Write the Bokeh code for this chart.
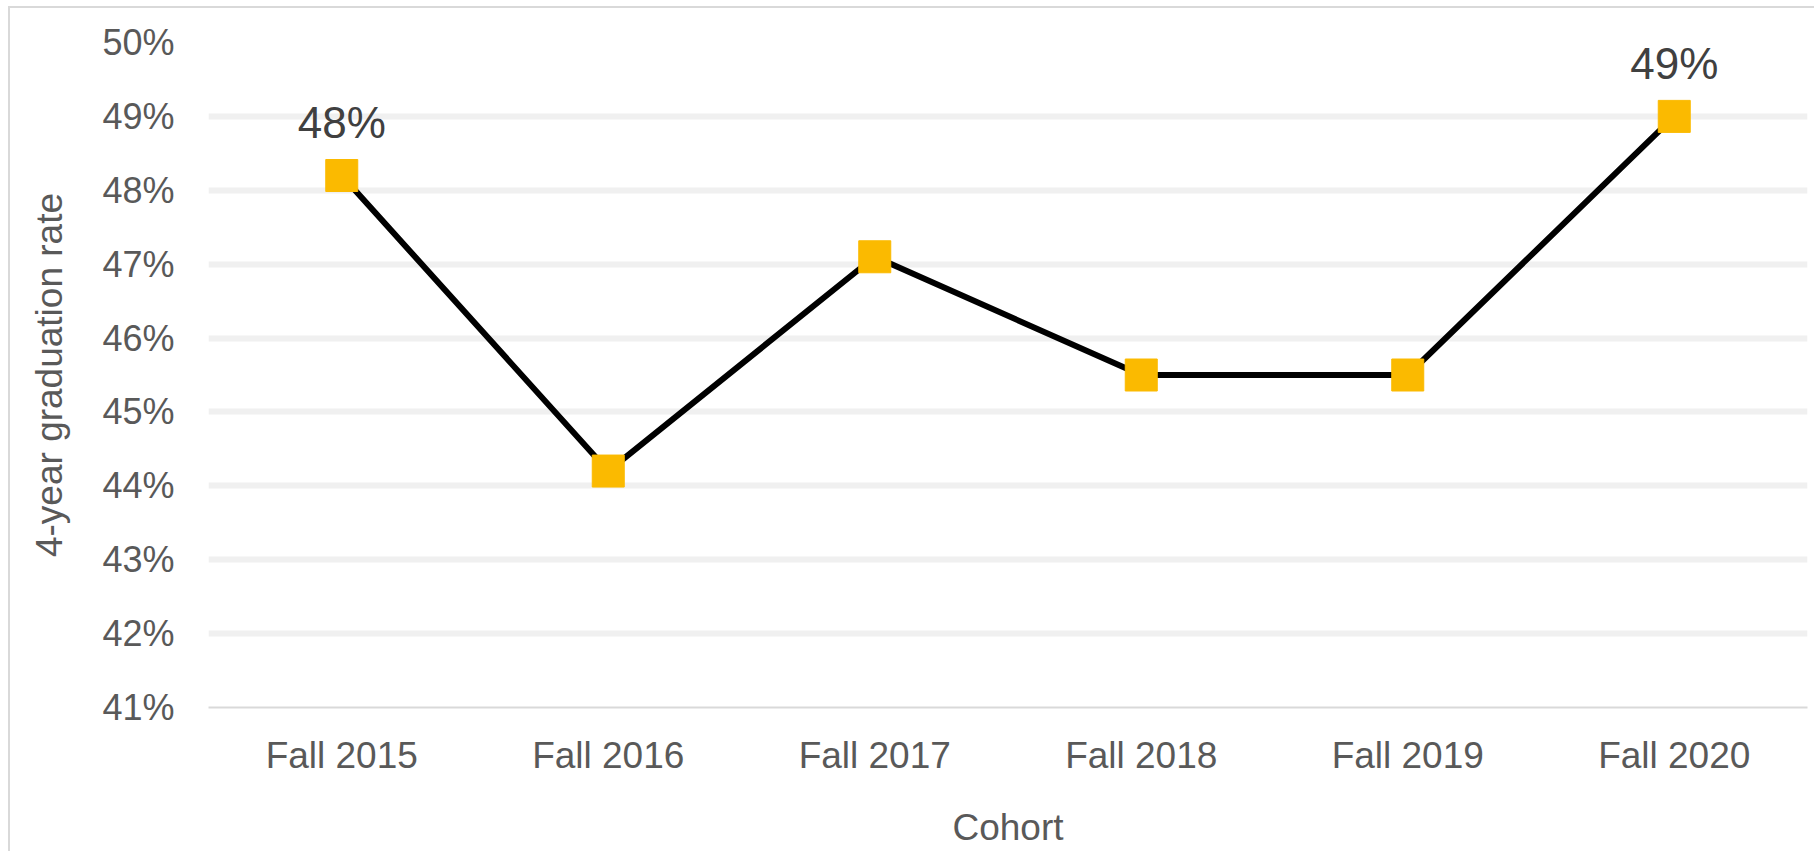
from bokeh.plotting import figure
from bokeh.models import ColumnDataSource, FactorRange, Range1d, FixedTicker, PrintfTickFormatter
from bokeh.core.properties import value
from bokeh.embed import file_html
from bokeh.resources import INLINE

cohorts = ["Fall 2015", "Fall 2016", "Fall 2017", "Fall 2018", "Fall 2019", "Fall 2020"]
rates = [48.2, 44.2, 47.1, 45.5, 45.5, 49.0]
point_labels = ["48%", "", "", "", "", "49%"]
y_ticks = [41, 42, 43, 44, 45, 46, 47, 48, 49, 50]

FONT = "Liberation Sans"

src = ColumnDataSource(dict(x=cohorts, y=rates, lab=point_labels))

p = figure(
    x_range=FactorRange(*cohorts, range_padding=0),
    y_range=Range1d(41, 50),
    width=1806, height=845,
    output_backend="svg", toolbar_location=None,
    min_border_left=198, min_border_right=9, min_border_top=34, min_border_bottom=146,
)
p.styles = {"border-left": "2px solid #D9D9D9", "border-top": "2px solid #D9D9D9",
            "margin-left": "8px", "margin-top": "6px"}
p.outline_line_color = None
p.background_fill_color = "white"
p.border_fill_color = "white"

# grid
p.xgrid.grid_line_color = None
p.ygrid.ticker = FixedTicker(ticks=y_ticks[1:])
p.ygrid.grid_line_color = "#F0F0F0"
p.ygrid.grid_line_width = 6

# y axis
p.yaxis.ticker = FixedTicker(ticks=y_ticks)
p.yaxis.formatter = PrintfTickFormatter(format="%d%%")
p.yaxis.axis_line_color = None
p.yaxis.major_tick_line_color = None
p.yaxis.minor_tick_line_color = None
p.yaxis.major_label_standoff = 28
p.yaxis.major_label_text_font = FONT
p.yaxis.major_label_text_font_size = "36px"
p.yaxis.major_label_text_color = "#595959"
p.yaxis.axis_label = "4-year graduation rate"
p.yaxis.axis_label_text_font = FONT
p.yaxis.axis_label_text_font_size = "37px"
p.yaxis.axis_label_text_font_style = "normal"
p.yaxis.axis_label_text_color = "#595959"
p.yaxis.axis_label_standoff = 29

# x axis
p.xaxis.axis_line_color = "#D9D9D9"
p.xaxis.axis_line_width = 2
p.xaxis.major_tick_line_color = None
p.xaxis.minor_tick_line_color = None
p.xaxis.major_label_standoff = 21
p.xaxis.major_label_text_font = FONT
p.xaxis.major_label_text_font_size = "37px"
p.xaxis.major_label_text_color = "#595959"
p.xaxis.axis_label = "Cohort"
p.xaxis.axis_label_text_font = FONT
p.xaxis.axis_label_text_font_size = "37px"
p.xaxis.axis_label_text_font_style = "normal"
p.xaxis.axis_label_text_color = "#595959"
p.xaxis.axis_label_standoff = 28

p.line("x", "y", source=src, line_color="black", line_width=6)
p.scatter("x", "y", source=src, marker="square", size=32,
          fill_color="#FBBA00", line_color="#FBBA00")
p.text("x", "y", text="lab", source=src, y_offset=-53,
       text_align="center", text_baseline="middle",
       text_font=value(FONT), text_font_size="44px", text_color="#404040")

open("out.html", "w").write(file_html(p, INLINE))
